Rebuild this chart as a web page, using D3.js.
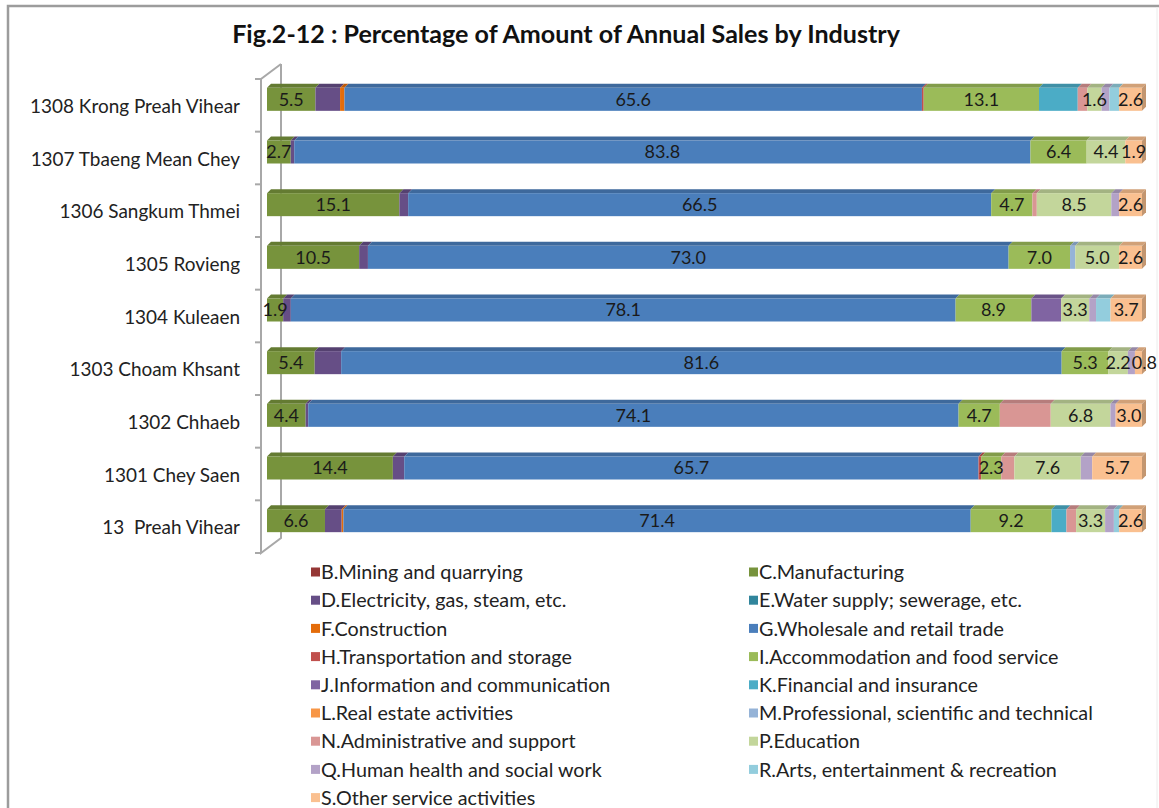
<!DOCTYPE html>
<html><head><meta charset="utf-8">
<script src="https://cdn.jsdelivr.net/npm/d3@7"></script>
<style>body{margin:0;background:#fff;} svg{display:block;}</style>
</head><body><svg id="c" width="1159" height="808"></svg>
<script>
const title = "Fig.2-12 : Percentage of Amount of Annual Sales by Industry";
const categories = ["1308 Krong Preah Vihear","1307 Tbaeng Mean Chey","1306 Sangkum Thmei","1305 Rovieng","1304 Kuleaen","1303 Choam Khsant","1302 Chhaeb","1301 Chey Saen","13  Preah Vihear"];
const seriesKeys = ["B","C","D","E","F","G","H","I","J","K","L","M","N","P","Q","R","S"];
const seriesNames = ["B.Mining and quarrying","C.Manufacturing","D.Electricity, gas, steam, etc.","E.Water supply; sewerage, etc.","F.Construction","G.Wholesale and retail trade","H.Transportation and storage","I.Accommodation and food service","J.Information and communication","K.Financial and insurance","L.Real estate activities","M.Professional, scientific and technical","N.Administrative and support","P.Education","Q.Human health and social work","R.Arts, entertainment & recreation","S.Other service activities"];
const seriesColors = ["#953735","#77933C","#664E86","#31859C","#E46C0A","#4A7EBB","#C0504D","#9BBB59","#8064A2","#4BACC6","#F79646","#95B3D7","#D99694","#C3D69B","#B3A2C7","#93CDDD","#FAC090"];
const labeledSeries = ["C","G","I","P","S"];

// values per category (same order as categories)
const B = [0,0,0,0,0,0,0,0,0];
const C = [5.5,2.7,15.1,10.5,1.9,5.4,4.4,14.4,6.6];
const D = [2.8,0.4,1.0,1.0,0.9,3.0,0.3,1.3,1.9];
const E = [0,0,0,0,0,0,0,0,0];
const F = [0.5,0,0,0,0,0,0,0,0.2];
const G = [65.6,83.8,66.5,73.0,78.1,81.6,74.1,65.7,71.4];
const H = [0.2,0,0,0,0,0,0,0.3,0];
const I = [13.1,6.4,4.7,7.0,8.9,5.3,4.7,2.3,9.2];
const J = [0,0,0,0,3.5,0,0,0,0];
const K = [4.4,0,0,0,0,0,0,0,1.7];
const L = [0,0,0,0,0,0,0,0,0];
const M = [0,0,0,0.6,0,0,0,0,0];
const N = [1.1,0,0.5,0,0,0,5.8,1.5,1.1];
const P = [1.6,4.4,8.5,5.0,3.3,2.2,6.8,7.6,3.3];
const Q = [0.9,0,0.9,0,0.8,0.8,0.6,1.3,1.0];
const R = [1.1,0,0,0,1.7,0,0,0,0.6];
const S = [2.6,1.9,2.6,2.6,3.7,0.8,3.0,5.7,2.6];
const seriesValues = {B,C,D,E,F,G,H,I,J,K,L,M,N,P,Q,R,S};

const svg = d3.select("#c");
const FONT = "Lato, 'Open Sans', sans-serif";

function fitSize(txt, weight, target, base){
  const t = svg.append("text").attr("font-family",FONT).attr("font-weight",weight).attr("font-size",base).text(txt);
  const w = t.node().getComputedTextLength(); t.remove();
  return base*target/w;
}

// frame
svg.append("path").attr("d","M8,808 V6 H1159").attr("fill","none").attr("stroke","#9c9c9c").attr("stroke-width",2.5);
svg.append("line").attr("x1",1157).attr("x2",1157).attr("y1",7).attr("y2",808).attr("stroke","#ececec").attr("stroke-width",1);

// title
const titleSize = fitSize(title,"bold",668,20);
svg.append("text").attr("x",566).attr("y",43).attr("text-anchor","middle")
  .attr("font-family",FONT).attr("font-weight","bold").attr("font-size",titleSize).attr("fill","#111").text(title);

// data table
const rows = categories.map((c,i)=>{const r={cat:c}; seriesKeys.forEach(k=>r[k]=seriesValues[k][i]); return r;});
const stacked = d3.stack().keys(seriesKeys).offset(d3.stackOffsetExpand)(rows);

const wallX = 261, depthX = 20, depthY = 15;
const y = d3.scaleBand().domain(categories).range([79,553]).padding(0);
const x = d3.scaleLinear().domain([0,1]).range([267,1142]);
const barH = 23, barShiftY = -6, topD = 4;

// wall
const wall = svg.append("g").attr("stroke","#a8a8a8").attr("stroke-width",2).attr("fill","none");
wall.append("path").attr("d",`M${wallX+depthX},${79-depthY} L${wallX},79 V553 L${wallX+depthX},${553-depthY} V${79-depthY}`);
const bounds = categories.map(c=>y(c)).concat([553]);
wall.selectAll("line").data(bounds).join("line").attr("x1",wallX-6).attr("x2",wallX).attr("y1",d=>d).attr("y2",d=>d);

// category axis labels
const catSize = fitSize(categories[0],"normal",210,16);
const ax = svg.append("g").attr("transform",`translate(${wallX},1)`)
  .call(d3.axisLeft(y).tickSize(0).tickPadding(21));
ax.select(".domain").remove();
ax.selectAll("text").attr("font-family",FONT).attr("font-size",catSize).attr("fill","#222").attr("dy","0.36em").style("white-space","pre");

// bars
const bars = svg.append("g");
stacked.forEach((ser,si)=>{
  const col = seriesColors[si];
  const g = bars.append("g");
  ser.forEach((d,ci)=>{
    if(d[1]-d[0] <= 0) return;
    const x0 = x(d[0]), x1 = x(d[1]);
    const yc = y(categories[ci]) + y.bandwidth()/2 + barShiftY;
    const yt = yc - barH/2;
    g.append("path").attr("d",`M${x0},${yt} L${x0+topD},${yt-topD} L${x1+topD},${yt-topD} L${x1},${yt} Z`)
      .attr("fill",d3.color(col).darker(0.5));
    g.append("rect").attr("x",x0).attr("y",yt).attr("width",x1-x0).attr("height",barH).attr("fill",col);
  });
});
// right side faces
categories.forEach((c,ci)=>{
  let last = null;
  stacked.forEach((ser,si)=>{ if(ser[ci][1]-ser[ci][0]>0) last=si; });
  const col = seriesColors[last];
  const x1 = x(1);
  const yc = y(c) + y.bandwidth()/2 + barShiftY, yt = yc - barH/2;
  bars.append("path").attr("d",`M${x1},${yt} L${x1+topD},${yt-topD} L${x1+topD},${yt+barH-topD} L${x1},${yt+barH} Z`)
    .attr("fill",d3.color(col).darker(0.7));
});

// data labels (shift right when touching the previous label in the row)
const fmt = d3.format(".1f");
const prevRight = categories.map(()=>-Infinity);
stacked.forEach((ser,si)=>{
  const key = seriesKeys[si];
  if(!labeledSeries.includes(key)) return;
  ser.forEach((d,ci)=>{
    const v = seriesValues[key][ci];
    if(!v) return;
    const yc = y(categories[ci]) + y.bandwidth()/2 + barShiftY;
    const t = svg.append("text").attr("y",yc).attr("dy","0.36em")
      .attr("text-anchor","middle").attr("font-family",FONT).attr("font-size",18).attr("fill","#1a1a1a").text(fmt(v));
    const w = t.node().getComputedTextLength();
    let cx = (x(d[0])+x(d[1]))/2;
    if(cx - w/2 < prevRight[ci] + 1) cx = prevRight[ci] + 1 + w/2;
    t.attr("x",cx);
    prevRight[ci] = cx + w/2;
  });
});

// legend
const legSize = fitSize(seriesNames[11],"normal",334,16);
const leg = svg.append("g");
seriesNames.forEach((n,i)=>{
  const col = i%2, row = Math.floor(i/2);
  const lx = col===0 ? 311 : 749, ly = 572 + row*28.2;
  leg.append("rect").attr("x",lx).attr("y",ly-4.5).attr("width",9).attr("height",9).attr("fill",seriesColors[i]);
  leg.append("text").attr("x",lx+10).attr("y",ly).attr("dy","0.36em").attr("font-family",FONT).attr("font-size",legSize).attr("fill","#222").text(n);
});
</script></body></html>
